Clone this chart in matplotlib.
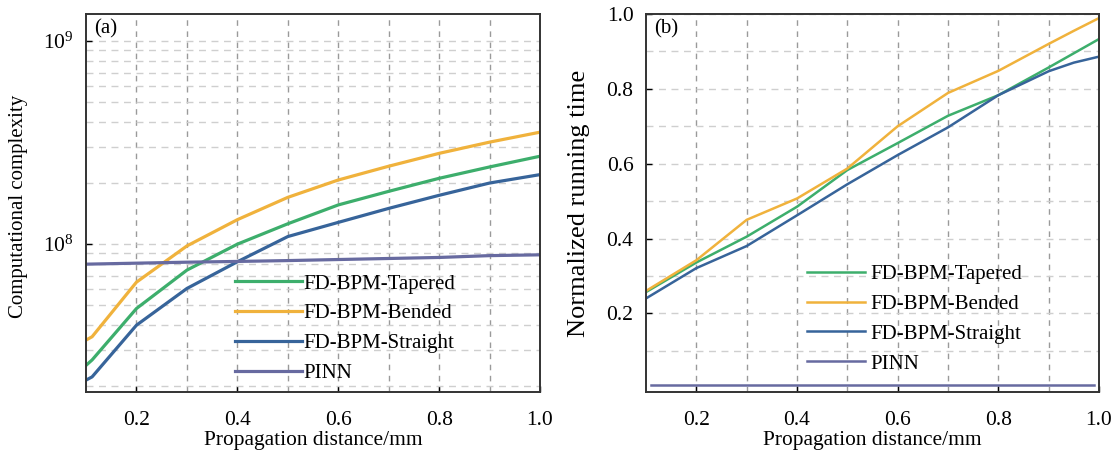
import matplotlib.pyplot as plt
from matplotlib.ticker import LogLocator, FixedLocator, NullFormatter

plt.rcParams['font.family'] = ['Liberation Serif', 'DejaVu Serif']
plt.rcParams['mathtext.fontset'] = 'stix'

# (a) computational complexity
x_a = [0.1, 0.112, 0.2, 0.3, 0.4, 0.5, 0.6, 0.7, 0.8, 0.9, 1.0]
tapered_a = [2.53e7, 2.69e7, 4.82e7, 7.45e7, 1.0e8, 1.26e8, 1.56e8, 1.82e8, 2.11e8, 2.4e8, 2.71e8]
bended_a = [3.37e7, 3.5e7, 6.5e7, 9.8e7, 1.32e8, 1.70e8, 2.07e8, 2.42e8, 2.8e8, 3.18e8, 3.56e8]
straight_a = [2.14e7, 2.22e7, 3.99e7, 6.05e7, 8.19e7, 1.09e8, 1.28e8, 1.5e8, 1.74e8, 2.0e8, 2.2e8]
pinn_a = [7.97e7, 7.98e7, 8.06e7, 8.15e7, 8.22e7, 8.3e7, 8.4e7, 8.5e7, 8.6e7, 8.78e7, 8.86e7]

# (b) normalized running time
x_b = [0.1, 0.2, 0.3, 0.4, 0.5, 0.6, 0.7, 0.8, 0.9, 0.95, 1.0]
tapered_b = [0.257, 0.336, 0.405, 0.485, 0.583, 0.655, 0.728, 0.783, 0.857, 0.895, 0.933]
bended_b = [0.26, 0.342, 0.45, 0.507, 0.587, 0.70, 0.789, 0.848, 0.92, 0.955, 0.989]
straight_b = [0.24, 0.321, 0.38, 0.462, 0.545, 0.623, 0.697, 0.783, 0.847, 0.87, 0.886]
x_pinn_b = [0.11, 0.99]
pinn_b = [0.01, 0.01]

labels = ['FD-BPM-Tapered', 'FD-BPM-Bended', 'FD-BPM-Straight', 'PINN']
colors = ['#3DAE6C', '#F0B23C', '#37649A', '#676AA0']

fig = plt.figure(figsize=(11.13, 4.51), dpi=100)
ax1 = fig.add_axes([0.0773, 0.1308, 0.4079, 0.8382])
ax2 = fig.add_axes([0.5804, 0.1308, 0.4070, 0.8382])


def style(ax):
    for s in ax.spines.values():
        s.set_color('#333333')
        s.set_linewidth(1.4)
    ax.tick_params(direction='in', length=4, width=1, labelsize=15.5,
                   top=False, right=False)
    ax.tick_params(axis='x', pad=13.5)
    ax.tick_params(axis='y', pad=9)
    ax.tick_params(which='minor', length=0)
    ax.set_xlim(0.1, 1.0)
    ax.set_xticks([0.2, 0.4, 0.6, 0.8, 1.0])
    ax.set_xticklabels(['0.2', '0.4', '0.6', '0.8', '1.0'])
    for v in [0.2, 0.3, 0.4, 0.5, 0.6, 0.7, 0.8, 0.9]:
        ax.axvline(v, color='#9a9a9a', lw=1, ls=(0, (4, 4)), zorder=0)
    ax.set_xlabel('Propagation distance/mm', fontsize=15.4, va='top')
    ax.xaxis.set_label_coords(0.5, -0.104)


# panel (a)
ax1.set_yscale('log')
ax1.set_ylim(1.87e7, 1.36e9)
ax1.yaxis.set_major_locator(FixedLocator([1e8, 1e9]))
ax1.yaxis.set_minor_locator(LogLocator(base=10, subs=range(2, 10)))
ax1.yaxis.set_minor_formatter(NullFormatter())
ax1.grid(axis='y', which='both', color='#cfcfcf', lw=1, ls=(0, (5, 4)), zorder=0)
for ys, c, lab in zip([tapered_a, bended_a, straight_a, pinn_a], colors, labels):
    ax1.plot(x_a, ys, color=c, lw=2.3, label=lab)
style(ax1)
ax1.set_ylabel('Computational complexity', fontsize=15)
ax1.yaxis.set_label_coords(-0.127, 0.49)
ax1.text(0.018, 0.985, '(a)', transform=ax1.transAxes, fontsize=15, va='top')
ax1.legend(loc='upper left', bbox_to_anchor=(0.328, 0.312), frameon=False,
           fontsize=15, handlelength=3.2, handletextpad=0.1, labelspacing=0.49,
           borderpad=0, borderaxespad=0)

# panel (b)
ax2.set_ylim(-0.01, 1.0)
ax2.set_yticks([0.2, 0.4, 0.6, 0.8, 1.0])
ax2.set_yticklabels(['0.2', '0.4', '0.6', '0.8', '1.0'])
ax2.yaxis.set_minor_locator(FixedLocator([0.1, 0.3, 0.5, 0.7, 0.9]))
ax2.grid(axis='y', which='both', color='#cfcfcf', lw=1, ls=(0, (5, 4)), zorder=0)
for xs, ys, c, lab in zip([x_b, x_b, x_b, x_pinn_b],
                          [tapered_b, bended_b, straight_b, pinn_b], colors, labels):
    ax2.plot(xs, ys, color=c, lw=1.8, label=lab)
style(ax2)
ax2.set_ylabel('Normalized running time', fontsize=19)
ax2.yaxis.set_label_coords(-0.124, 0.5)
ax2.text(0.018, 0.985, '(b)', transform=ax2.transAxes, fontsize=15, va='top')
ax2.legend(loc='upper left', bbox_to_anchor=(0.355, 0.337), frameon=False,
           fontsize=15, handlelength=2.8, handletextpad=0.24, labelspacing=0.49,
           borderpad=0, borderaxespad=0)

fig.savefig('out.png', dpi=100)
